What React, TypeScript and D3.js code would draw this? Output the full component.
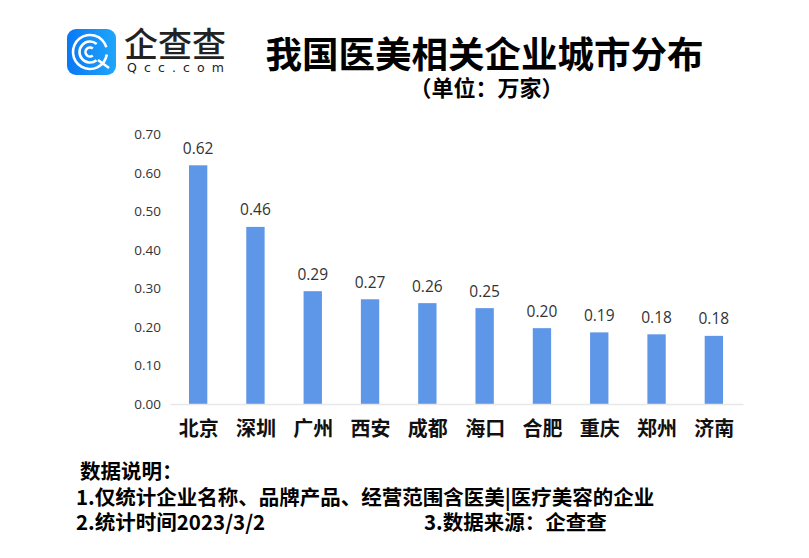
import React, { useEffect, useRef } from 'react';
import * as d3 from 'd3';

const cities = ['北京', '深圳', '广州', '西安', '成都', '海口', '合肥', '重庆', '郑州', '济南'];
const counts = [0.62, 0.46, 0.293, 0.272, 0.262, 0.249, 0.197, 0.186, 0.181, 0.177];
const yTicks = [0, 0.1, 0.2, 0.3, 0.4, 0.5, 0.6, 0.7];

const title = '我国医美相关企业城市分布';
const subtitle = '（单位：万家）';
const notes = [
  { text: '数据说明：', x: 80, y: 479 },
  { text: '1.仅统计企业名称、品牌产品、经营范围含医美|医疗美容的企业', x: 76, y: 505 },
  { text: '2.统计时间2023/3/2', x: 76, y: 530 },
  { text: '3.数据来源：企查查', x: 424, y: 530 },
];

const CJK = '"Noto Sans CJK SC", "Noto Sans", sans-serif';
const NUM = '"Open Sans", "Noto Sans", sans-serif';

export default function App() {
  const ref = useRef<SVGSVGElement>(null);

  useEffect(() => {
    if (!ref.current) return;
    const svg = d3.select(ref.current);
    svg.selectAll('*').remove();

    const x = d3.scaleBand().domain(cities).range([170, 743]).paddingInner(0.68).paddingOuter(0.34);
    const y = d3.scaleLinear().domain([0, 0.7]).range([404, 134.5]);

    // logo
    const logo = svg.append('g');
    const grad = svg.append('defs').append('linearGradient').attr('id', 'logoGrad')
      .attr('x1', 0).attr('x2', 1).attr('y1', 0).attr('y2', 0);
    grad.append('stop').attr('offset', 0).attr('stop-color', '#0a78f5');
    grad.append('stop').attr('offset', 1).attr('stop-color', '#1fa6fb');
    logo.append('rect').attr('x', 67).attr('y', 29).attr('width', 49).attr('height', 46).attr('rx', 9).attr('fill', 'url(#logoGrad)');
    const ringArc = d3.arc();
    const rings = [
      { r: 17, start: 0.15, end: 6.0 },
      { r: 10.5, start: 0.9, end: 5.4 },
      { r: 4.5, start: 0.9, end: 5.4 },
    ];
    logo.selectAll('path.ring').data(rings).enter().append('path')
      .attr('class', 'ring')
      .attr('transform', 'translate(90,52)')
      .attr('fill', '#fff')
      .attr('d', (d) => ringArc({ innerRadius: d.r - 1.3, outerRadius: d.r + 1.3, startAngle: d.start + Math.PI / 2, endAngle: d.end + Math.PI / 2 }) as string);
    logo.append('line').attr('x1', 98).attr('y1', 60).attr('x2', 109).attr('y2', 68)
      .attr('stroke', '#fff').attr('stroke-width', 2.6);
    logo.append('text').attr('x', 124).attr('y', 57).attr('font-family', CJK).attr('font-size', 34)
      .attr('font-weight', 500).attr('fill', '#222').attr('textLength', 102).text('企查查');
    logo.append('text').attr('x', 127).attr('y', 72).attr('font-family', '"DejaVu Sans", sans-serif').attr('font-size', 12.5)
      .attr('font-weight', 400).attr('fill', '#222').attr('textLength', 97).text('Qcc.com');

    // titles
    svg.append('text').attr('x', 484.5).attr('y', 68).attr('text-anchor', 'middle')
      .attr('font-family', CJK).attr('font-size', 36.5).attr('font-weight', 700).attr('fill', '#000').text(title);
    svg.append('text').attr('x', 486.5).attr('y', 96).attr('text-anchor', 'middle')
      .attr('font-family', CJK).attr('font-size', 22).attr('font-weight', 700).attr('fill', '#000').text(subtitle);

    // y axis
    const yAxis = d3.axisLeft(y).tickValues(yTicks).tickFormat(d3.format('.2f')).tickSize(0).tickPadding(9);
    const gy = svg.append('g').attr('transform', 'translate(170,0)').call(yAxis);
    gy.select('.domain').remove();
    gy.selectAll('text').attr('font-family', NUM).attr('font-size', 13.5).attr('fill', '#333');

    // bars
    svg.selectAll('rect.bar').data(cities).enter().append('rect')
      .attr('class', 'bar')
      .attr('x', (d) => (x(d) as number) - 0.5)
      .attr('y', (_, i) => y(counts[i]))
      .attr('width', x.bandwidth())
      .attr('height', (_, i) => y(0) - y(counts[i]))
      .attr('fill', '#5e96e8');

    svg.selectAll('text.val').data(cities).enter().append('text')
      .attr('class', 'val')
      .attr('x', (d) => (x(d) as number) + x.bandwidth() / 2 - 0.5)
      .attr('y', (_, i) => y(counts[i]) - 11.5)
      .attr('text-anchor', 'middle')
      .attr('font-family', NUM).attr('font-size', 15.5).attr('fill', '#333')
      .text((_, i) => d3.format('.2f')(counts[i]));

    // x axis
    const xAxis = d3.axisBottom(x).tickSize(0).tickPadding(18);
    const gx = svg.append('g').attr('transform', 'translate(0,404)').call(xAxis);
    gx.select('.domain').attr('stroke', '#e8e8e8').attr('stroke-width', 1.5);
    gx.selectAll('text').attr('font-family', CJK).attr('font-size', 20).attr('font-weight', 700).attr('fill', '#111');

    // notes
    svg.selectAll('text.note').data(notes).enter().append('text')
      .attr('class', 'note')
      .attr('x', (d) => d.x).attr('y', (d) => d.y)
      .attr('font-family', CJK).attr('font-size', 20.5).attr('font-weight', 700).attr('fill', '#000')
      .text((d) => d.text);
  }, []);

  return (
    <svg
      ref={ref}
      width={809}
      height={558}
      style={{ position: 'absolute', left: 0, top: 0, background: '#fff' }}
    />
  );
}
